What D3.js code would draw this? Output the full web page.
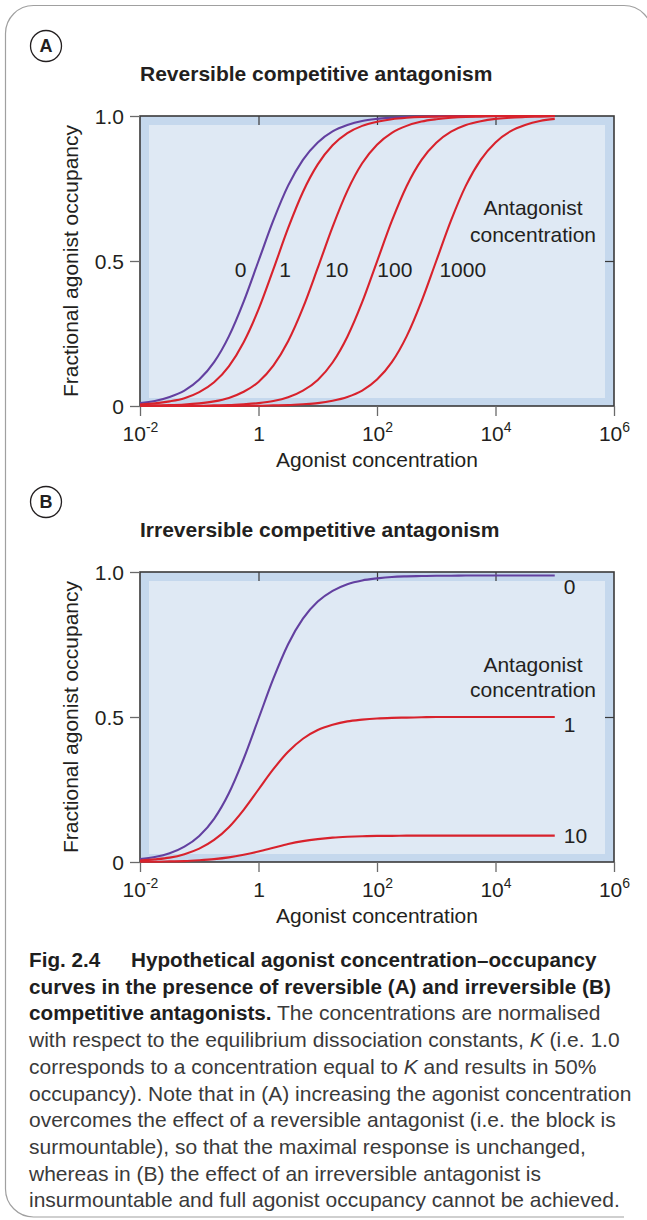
<!DOCTYPE html>
<html>
<head>
<meta charset="utf-8">
<script src="https://cdn.jsdelivr.net/npm/d3@7"></script>
<style>
  html, body { margin: 0; padding: 0; background: #ffffff; }
  svg { display: block; }
  text { font-family: "Liberation Sans", Arial, Helvetica, sans-serif; fill: #231f20; }
</style>
</head>
<body>
<svg id="chart" width="647" height="1220"></svg>
<script>
// ---------------- DATA ----------------
const agonistConc = [0.01, 0.0178, 0.0316, 0.0562, 0.1, 0.178, 0.316, 0.562, 1, 1.78, 3.16, 5.62,
  10, 17.8, 31.6, 56.2, 100, 178, 316, 562, 1000, 1778, 3162, 5623, 10000, 17783, 31623, 56234, 100000];

// Panel A: reversible competitive antagonism (antagonist concentration 0, 1, 10, 100, 1000)
const revAntagonistLabels = ["0", "1", "10", "100", "1000"];
const revAnt0    = [0.010, 0.017, 0.031, 0.053, 0.091, 0.151, 0.240, 0.360, 0.500, 0.640, 0.760, 0.849,
  0.909, 0.947, 0.969, 0.983, 0.990, 0.994, 0.997, 0.998, 0.999, 0.999, 1.000, 1.000, 1.000, 1.000, 1.000, 1.000, 1.000];
const revAnt1    = [0.005, 0.009, 0.016, 0.027, 0.048, 0.082, 0.137, 0.220, 0.333, 0.471, 0.613, 0.738,
  0.833, 0.899, 0.941, 0.966, 0.980, 0.989, 0.994, 0.997, 0.998, 0.999, 0.999, 1.000, 1.000, 1.000, 1.000, 1.000, 1.000];
const revAnt10   = [0.001, 0.002, 0.003, 0.005, 0.009, 0.016, 0.028, 0.049, 0.083, 0.139, 0.223, 0.338,
  0.476, 0.618, 0.742, 0.837, 0.901, 0.942, 0.966, 0.981, 0.989, 0.994, 0.997, 0.998, 0.999, 0.999, 1.000, 1.000, 1.000];
const revAnt100  = [0.000, 0.000, 0.000, 0.001, 0.001, 0.002, 0.003, 0.006, 0.010, 0.017, 0.030, 0.053,
  0.090, 0.150, 0.239, 0.358, 0.498, 0.638, 0.758, 0.848, 0.908, 0.946, 0.969, 0.982, 0.990, 0.994, 0.997, 0.998, 0.999];
const revAnt1000 = [0.000, 0.000, 0.000, 0.000, 0.000, 0.000, 0.000, 0.001, 0.001, 0.002, 0.003, 0.006,
  0.010, 0.018, 0.031, 0.053, 0.091, 0.151, 0.240, 0.360, 0.500, 0.640, 0.760, 0.849, 0.909, 0.947, 0.969, 0.983, 0.990];
// where the curve labels sit (agonist concentration, occupancy)
const revLabelX = [0.5, 2.8, 21, 200, 2800];
const revLabelY = [0.47, 0.47, 0.47, 0.47, 0.47];

// Panel B: irreversible competitive antagonism (antagonist concentration 0, 1, 10)
const irrAntagonistLabels = ["0", "1", "10"];
const irrAnt0  = [0.010, 0.017, 0.030, 0.053, 0.090, 0.149, 0.237, 0.356, 0.494, 0.632, 0.751, 0.839,
  0.898, 0.935, 0.958, 0.971, 0.978, 0.983, 0.985, 0.986, 0.987, 0.987, 0.988, 0.988, 0.988, 0.988, 0.988, 0.988, 0.988];
const irrAnt1  = [0.005, 0.009, 0.015, 0.027, 0.046, 0.076, 0.120, 0.180, 0.250, 0.320, 0.380, 0.425,
  0.455, 0.473, 0.485, 0.491, 0.495, 0.497, 0.498, 0.499, 0.500, 0.500, 0.500, 0.500, 0.500, 0.500, 0.500, 0.500, 0.500];
const irrAnt10 = [0.001, 0.001, 0.002, 0.003, 0.006, 0.010, 0.016, 0.025, 0.036, 0.049, 0.062, 0.072,
  0.079, 0.084, 0.087, 0.089, 0.090, 0.090, 0.091, 0.091, 0.091, 0.091, 0.091, 0.091, 0.091, 0.091, 0.091, 0.091, 0.091];
const irrLabelY = [0.99, 0.50, 0.091];

// Axes
const xTickValues = [0.01, 1, 100, 10000, 1000000];
const xTickBase = ["10", "1", "10", "10", "10"];
const xTickExp = ["-2", "", "2", "4", "6"];
const yTickValues = [0, 0.5, 1.0];
const yTickLabels = ["0", "0.5", "1.0"];

const captionLines = [
  [{t: "Fig. 2.4", b: true}, {t: "Hypothetical agonist concentration\u2013occupancy", b: true, x: 131}],
  [{t: "curves in the presence of reversible (A) and irreversible (B)", b: true}],
  [{t: "competitive antagonists.", b: true}, {t: " The concentrations are normalised"}],
  [{t: "with respect to the equilibrium dissociation constants, "}, {t: "K", i: true}, {t: " (i.e. 1.0"}],
  [{t: "corresponds to a concentration equal to "}, {t: "K", i: true}, {t: " and results in 50%"}],
  [{t: "occupancy). Note that in (A) increasing the agonist concentration"}],
  [{t: "overcomes the effect of a reversible antagonist (i.e. the block is"}],
  [{t: "surmountable), so that the maximal response is unchanged,"}],
  [{t: "whereas in (B) the effect of an irreversible antagonist is"}],
  [{t: "insurmountable and full agonist occupancy cannot be achieved."}]
];

// ---------------- STYLE ----------------
const PURPLE = "#6340a0";
const RED = "#d8222c";
const BAND = "#c5d8ed";
const INNER = "#dfe9f4";
const FRAME = "#3a3a3a";
const TICK = "#6a6a6a";
const FS = 21;

const svg = d3.select("#chart");

// outer rounded frame (right edge beyond the visible area)
(function () {
  const L = 5.5, T = 5.5, R = 652, B = 1217, r = 28;
  const p = d3.path();
  p.moveTo(R, T + r);
  p.arcTo(R, T, R - r, T, r);
  p.lineTo(L + r, T);
  p.arcTo(L, T, L, T + r, r);
  p.lineTo(L, B - r);
  p.arcTo(L, B, L + r, B, r);
  p.lineTo(R - r, B);
  svg.append("path").attr("d", p.toString()).attr("fill", "none")
    .attr("stroke", "#a0a0a0").attr("stroke-width", 1.2);
})();

function drawPanel(cfg) {
  const x = d3.scaleLog().domain([1e-2, 1e6]).range([140, 614]);
  const y = d3.scaleLinear().domain([0, 1]).range([cfg.bottom, cfg.top]);
  const g = svg.append("g");

  // circled letter
  g.append("circle").attr("cx", 46).attr("cy", cfg.top - 70).attr("r", 15.5)
    .attr("fill", "none").attr("stroke", "#231f20").attr("stroke-width", 1.3);
  g.append("text").attr("x", 46).attr("y", cfg.top - 70).attr("dy", "0.36em")
    .attr("text-anchor", "middle").attr("font-weight", "bold").attr("font-size", 18)
    .text(cfg.letter);

  // title
  g.append("text").attr("x", 140).attr("y", cfg.top - 35.5)
    .attr("font-weight", "bold").attr("font-size", FS).text(cfg.title);

  // background band + inner panel
  const w = x.range()[1] - x.range()[0];
  const h = cfg.bottom - cfg.top;
  g.append("rect").attr("x", 140).attr("y", cfg.top).attr("width", w).attr("height", h).attr("fill", BAND);
  g.append("rect").attr("x", 149).attr("y", cfg.top + 9).attr("width", w - 18).attr("height", h - 17).attr("fill", INNER);

  // inner ticks on top and right
  const axTop = g.append("g").attr("transform", `translate(0,${cfg.top})`)
    .call(d3.axisBottom(x).tickValues([1, 100, 10000]).tickSize(9).tickFormat(""));
  axTop.select(".domain").remove();
  axTop.selectAll("line").attr("stroke", FRAME).attr("stroke-width", 1.2);
  const axRight = g.append("g").attr("transform", `translate(614,0)`)
    .call(d3.axisLeft(y).tickValues([0.5]).tickSize(9).tickFormat(""));
  axRight.select(".domain").remove();
  axRight.selectAll("line").attr("stroke", FRAME).attr("stroke-width", 1.2);

  // frame
  g.append("rect").attr("x", 140).attr("y", cfg.top).attr("width", w).attr("height", h)
    .attr("fill", "none").attr("stroke", FRAME).attr("stroke-width", 1.6);

  // x axis
  const ax = g.append("g").attr("transform", `translate(0,${cfg.bottom})`)
    .call(d3.axisBottom(x).tickValues(xTickValues).tickSize(10).tickPadding(10));
  ax.select(".domain").remove();
  ax.selectAll(".tick line").attr("stroke", TICK).attr("stroke-width", 1.3);
  ax.selectAll(".tick text").each(function (d, i) {
    const t = d3.select(this).text("").attr("y", 35).attr("dy", null)
      .attr("font-size", FS).attr("font-family", null).attr("fill", null);
    t.append("tspan").text(xTickBase[i]);
    if (xTickExp[i]) t.append("tspan").attr("dy", -9).attr("font-size", 14).text(xTickExp[i]);
  });

  // y axis
  const ay = g.append("g").attr("transform", `translate(140,0)`)
    .call(d3.axisLeft(y).tickValues(yTickValues).tickSize(10).tickPadding(6)
      .tickFormat((d, i) => yTickLabels[i]));
  ay.select(".domain").remove();
  ay.selectAll(".tick line").attr("stroke", TICK).attr("stroke-width", 1.3);
  ay.selectAll(".tick text").attr("font-size", FS).attr("font-family", null).attr("fill", null)
    .attr("dy", "0.35em");

  // axis titles
  g.append("text").attr("x", 377).attr("y", cfg.bottom + 61).attr("text-anchor", "middle")
    .attr("font-size", FS).text("Agonist concentration");
  g.append("text").attr("transform", `translate(78,${(cfg.top + cfg.bottom) / 2}) rotate(-90)`)
    .attr("text-anchor", "middle").attr("font-size", FS).text("Fractional agonist occupancy");

  // legend caption
  g.append("text").attr("x", 533).attr("y", cfg.legendY).attr("text-anchor", "middle")
    .attr("font-size", FS).text("Antagonist");
  g.append("text").attr("x", 533).attr("y", cfg.legendY + cfg.legendGap).attr("text-anchor", "middle")
    .attr("font-size", FS).text("concentration");

  // curves
  const line = d3.line().x((d) => x(d[0])).y((d) => y(d[1])).curve(d3.curveMonotoneX);
  cfg.series.forEach((s, i) => {
    g.append("path").datum(agonistConc.map((c, k) => [c, s[k]]))
      .attr("d", line).attr("fill", "none")
      .attr("stroke", i === 0 ? PURPLE : RED).attr("stroke-width", 2.1)
      .attr("stroke-linejoin", "round");
  });
  cfg.drawLabels(g, x, y);
}

drawPanel({
  letter: "A", title: "Reversible competitive antagonism",
  top: 116, bottom: 406, legendY: 215, legendGap: 27,
  series: [revAnt0, revAnt1, revAnt10, revAnt100, revAnt1000],
  drawLabels: (g, x, y) => {
    revAntagonistLabels.forEach((lab, i) => {
      g.append("text").attr("x", x(revLabelX[i])).attr("y", y(revLabelY[i]))
        .attr("dy", "0.35em").attr("text-anchor", "middle").attr("font-size", FS).text(lab);
    });
  }
});

drawPanel({
  letter: "B", title: "Irreversible competitive antagonism",
  top: 572, bottom: 862, legendY: 672, legendGap: 25,
  series: [irrAnt0, irrAnt1, irrAnt10],
  drawLabels: (g, x, y) => {
    const dys = [19, 15, 7];
    irrAntagonistLabels.forEach((lab, i) => {
      g.append("text").attr("x", x(agonistConc[agonistConc.length - 1]) + 9)
        .attr("y", y(irrLabelY[i]) + dys[i]).attr("font-size", FS).text(lab);
    });
  }
});

// caption
const cap = svg.append("g");
captionLines.forEach((ln, i) => {
  const t = cap.append("text").attr("x", 29).attr("y", 967 + i * 26.7).attr("font-size", 21);
  ln.forEach((seg) => {
    const ts = t.append("tspan").text(seg.t);
    if (seg.x) ts.attr("x", seg.x);
    if (seg.b) ts.attr("font-weight", "bold").attr("font-size", 20.7).style("fill", "#1e1e1e");
    else ts.style("fill", "#3a3a3a");
    if (seg.i) ts.attr("font-style", "italic");
  });
});
</script>
</body>
</html>
